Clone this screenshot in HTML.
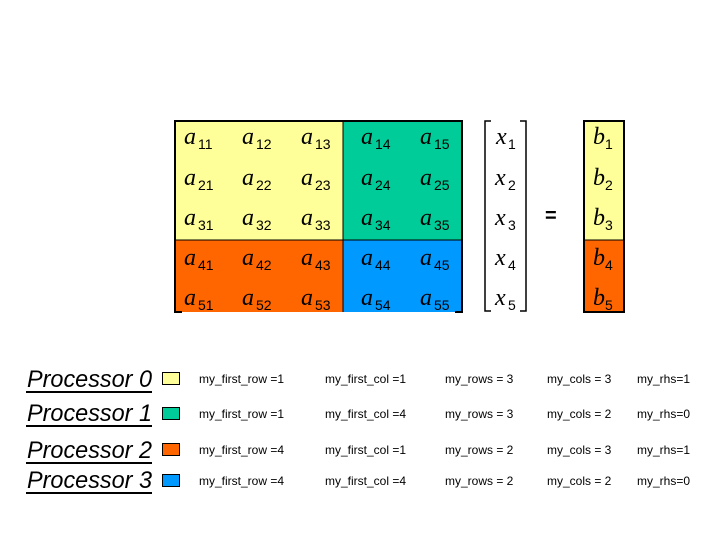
<!DOCTYPE html>
<html><head><meta charset="utf-8"><style>
body{margin:0;background:#fff;}
</style></head><body>
<svg width="720" height="540" xmlns="http://www.w3.org/2000/svg" style="display:block">
<rect x="175" y="121" width="168" height="119" fill="#ffff99"/>
<rect x="343" y="121" width="119" height="119" fill="#00cc99"/>
<rect x="175" y="240" width="168" height="72" fill="#ff6600"/>
<rect x="343" y="240" width="119" height="72" fill="#0099ff"/>
<g stroke="#000" stroke-width="1" fill="none">
<line x1="175" y1="240" x2="462" y2="240"/>
<line x1="343" y1="121" x2="343" y2="312"/>
</g>
<g stroke="#000" stroke-width="2" fill="none">
<polyline points="182,312 175,312 175,121 462,121 462,312 455,312"/>
</g>
<g font-family="Liberation Serif, serif" font-style="italic" font-size="24" fill="#000">
<text x="184" y="144">a</text><text x="242" y="144">a</text><text x="301" y="144">a</text><text x="361" y="144">a</text><text x="420" y="144">a</text>
<text x="184" y="185">a</text><text x="242" y="185">a</text><text x="301" y="185">a</text><text x="361" y="185">a</text><text x="420" y="185">a</text>
<text x="184" y="225">a</text><text x="242" y="225">a</text><text x="301" y="225">a</text><text x="361" y="225">a</text><text x="420" y="225">a</text>
<text x="184" y="265">a</text><text x="242" y="265">a</text><text x="301" y="265">a</text><text x="361" y="265">a</text><text x="420" y="265">a</text>
<text x="184" y="305">a</text><text x="242" y="305">a</text><text x="301" y="305">a</text><text x="361" y="305">a</text><text x="420" y="305">a</text>
</g>
<g font-family="Liberation Sans, sans-serif" font-size="14" fill="#000">
<text x="198" y="149">11</text><text x="256" y="149">12</text><text x="315" y="149">13</text><text x="375" y="149">14</text><text x="434" y="149">15</text>
<text x="198" y="190">21</text><text x="256" y="190">22</text><text x="315" y="190">23</text><text x="375" y="190">24</text><text x="434" y="190">25</text>
<text x="198" y="230">31</text><text x="256" y="230">32</text><text x="315" y="230">33</text><text x="375" y="230">34</text><text x="434" y="230">35</text>
<text x="198" y="270">41</text><text x="256" y="270">42</text><text x="315" y="270">43</text><text x="375" y="270">44</text><text x="434" y="270">45</text>
<text x="198" y="310">51</text><text x="256" y="310">52</text><text x="315" y="310">53</text><text x="375" y="310">54</text><text x="434" y="310">55</text>
</g>
<g stroke="#000" stroke-width="1.5" fill="none">
<polyline points="491,121 485,121 485,311 491,311"/>
<polyline points="520,121 526,121 526,311 520,311"/>
</g>
<g font-family="Liberation Serif, serif" font-style="italic" font-size="24" fill="#000">
<text x="496" y="144">x</text><text x="495" y="185">x</text><text x="495" y="225">x</text><text x="495" y="265">x</text><text x="495" y="305">x</text>
</g>
<g font-family="Liberation Sans, sans-serif" font-size="14" fill="#000">
<text x="508" y="149">1</text><text x="508" y="190">2</text><text x="508" y="230">3</text><text x="508" y="270">4</text><text x="508" y="310">5</text>
</g>
<text x="545" y="222" font-family="Liberation Sans, sans-serif" font-size="20" font-weight="bold" fill="#000">=</text>
<rect x="584" y="121" width="40" height="119" fill="#ffff99"/>
<rect x="584" y="240" width="40" height="72" fill="#ff6600"/>
<line x1="584" y1="240" x2="624" y2="240" stroke="#000" stroke-width="1"/>
<rect x="584" y="121" width="40" height="191" fill="none" stroke="#000" stroke-width="2"/>
<g font-family="Liberation Serif, serif" font-style="italic" font-size="24" fill="#000">
<text x="593" y="144">b</text><text x="593" y="185">b</text><text x="593" y="225">b</text><text x="593" y="265">b</text><text x="593" y="305">b</text>
</g>
<g font-family="Liberation Sans, sans-serif" font-size="14" fill="#000">
<text x="605" y="149">1</text><text x="605" y="190">2</text><text x="605" y="230">3</text><text x="605" y="270">4</text><text x="605" y="310">5</text>
</g>
<g font-family="Liberation Sans, sans-serif" font-style="italic" font-size="24" fill="#000">
<text x="27" y="387" textLength="125" lengthAdjust="spacingAndGlyphs">Processor 0</text>
<text x="27" y="421" textLength="125" lengthAdjust="spacingAndGlyphs">Processor 1</text>
<text x="27" y="458" textLength="125" lengthAdjust="spacingAndGlyphs">Processor 2</text>
<text x="27" y="488" textLength="125" lengthAdjust="spacingAndGlyphs">Processor 3</text>
</g>
<g fill="#000">
<rect x="26" y="391" width="126" height="2"/>
<rect x="26" y="425" width="126" height="2"/>
<rect x="26" y="462" width="126" height="2"/>
<rect x="26" y="492" width="126" height="2"/>
</g>
<g stroke="#000" stroke-width="1">
<rect x="162.5" y="372.5" width="17" height="12" fill="#ffff99"/>
<rect x="162.5" y="407.5" width="17" height="12" fill="#00cc99"/>
<rect x="162.5" y="443.5" width="17" height="12" fill="#ff6600"/>
<rect x="162.5" y="474.5" width="17" height="12" fill="#0099ff"/>
</g>
<g font-family="Liberation Sans, sans-serif" font-size="12" fill="#000">
<text x="199" y="383">my_first_row =1</text><text x="325" y="383">my_first_col =1</text><text x="445" y="383">my_rows = 3</text><text x="547" y="383">my_cols = 3</text><text x="637" y="383">my_rhs=1</text>
<text x="199" y="418">my_first_row =1</text><text x="325" y="418">my_first_col =4</text><text x="445" y="418">my_rows = 3</text><text x="547" y="418">my_cols = 2</text><text x="637" y="418">my_rhs=0</text>
<text x="199" y="454">my_first_row =4</text><text x="325" y="454">my_first_col =1</text><text x="445" y="454">my_rows = 2</text><text x="547" y="454">my_cols = 3</text><text x="637" y="454">my_rhs=1</text>
<text x="199" y="485">my_first_row =4</text><text x="325" y="485">my_first_col =4</text><text x="445" y="485">my_rows = 2</text><text x="547" y="485">my_cols = 2</text><text x="637" y="485">my_rhs=0</text>
</g>
</svg>
</body></html>
